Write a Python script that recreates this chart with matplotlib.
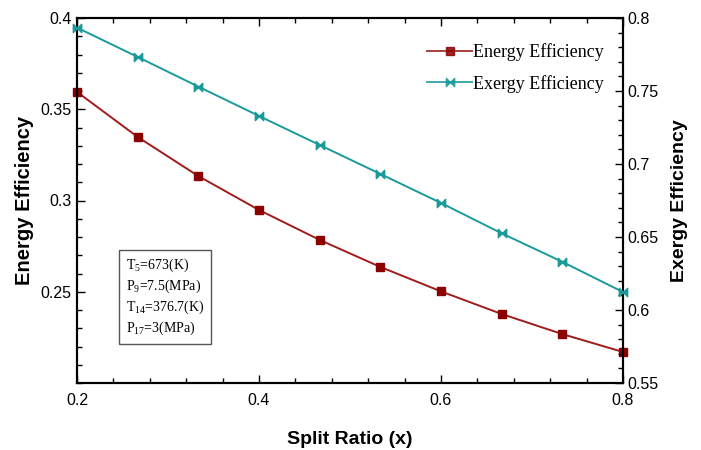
import numpy as np
import matplotlib
matplotlib.use("Agg")
import matplotlib.pyplot as plt
from matplotlib.path import Path
from matplotlib.ticker import MultipleLocator

# Split ratio values
split_ratio = [0.2, 0.2667, 0.3333, 0.4, 0.4667, 0.5333, 0.6, 0.6667, 0.7333, 0.8]

# Efficiencies
energy_eff = [0.3595, 0.3348, 0.3134, 0.2948, 0.2784, 0.2636, 0.2502, 0.2378, 0.2268, 0.2170]
exergy_eff = [0.7934, 0.7733, 0.7530, 0.7329, 0.7130, 0.6932, 0.6733, 0.6525, 0.6330, 0.6123]

# Conditions shown in the box
conditions = [r"T$_5$=673(K)", r"P$_9$=7.5(MPa)", r"T$_{14}$=376.7(K)", r"P$_{17}$=3(MPa)"]

plt.rcParams["font.family"] = "Liberation Sans"
plt.rcParams["mathtext.fontset"] = "custom"
plt.rcParams["mathtext.rm"] = "Liberation Serif"

red = "#8b0000"
teal = "#1a9a9a"

bowtie = Path([(-1, -1), (1, 1), (1, -1), (-1, 1), (-1, -1)],
              [Path.MOVETO, Path.LINETO, Path.LINETO, Path.LINETO, Path.CLOSEPOLY])

fig = plt.figure(figsize=(7.01, 4.5), dpi=100)
ax = fig.add_axes([77 / 701, 1 - 383 / 450, (623 - 77) / 701, (383 - 18) / 450])
ax2 = ax.twinx()

l1, = ax.plot(split_ratio, energy_eff, color="#a01c1c", lw=1.4, marker="s", ms=6,
              mfc=red, mec=red, label="Energy Efficiency", clip_on=False, zorder=3)
l2, = ax2.plot(split_ratio, exergy_eff, color=teal, lw=1.4, marker=bowtie, ms=6,
               mfc=teal, mec=teal, label="Exergy Efficiency", clip_on=False, zorder=3)

ax.set_xlim(0.2, 0.8)
ax.set_ylim(0.2, 0.4)
ax2.set_ylim(0.55, 0.8)

ax.xaxis.set_minor_locator(MultipleLocator(0.04))
ax.yaxis.set_minor_locator(MultipleLocator(0.01))
ax2.yaxis.set_minor_locator(MultipleLocator(0.01))

ax.set_xticks([0.2, 0.4, 0.6, 0.8])
ax.set_xticklabels(["0.2", "0.4", "0.6", "0.8"])
ax.set_yticks([0.25, 0.3, 0.35, 0.4])
ax.set_yticklabels(["0.25", "0.3", "0.35", "0.4"])
ax2.set_yticks([0.55, 0.6, 0.65, 0.7, 0.75, 0.8])
ax2.set_yticklabels(["0.55", "0.6", "0.65", "0.7", "0.75", "0.8"])

ax.tick_params(which="both", direction="in", top=True, right=False, labelsize=11.5)
ax.tick_params(axis="y", pad=4)
ax.tick_params(axis="x", pad=7)
ax.tick_params(which="major", length=6, width=1)
ax.tick_params(which="minor", length=3.5, width=1)
ax2.tick_params(which="both", direction="in", labelsize=11.5, pad=3)
ax2.tick_params(which="major", length=6, width=1)
ax2.tick_params(which="minor", length=3.5, width=1)
for a in (ax, ax2):
    for s in a.spines.values():
        s.set_linewidth(1.5)

ax.set_xlabel("Split Ratio (x)", fontsize=14, fontweight="bold", labelpad=17)
ax.set_ylabel("Energy Efficiency", fontsize=14.5, fontweight="bold", labelpad=4.5)
ax2.set_ylabel("Exergy Efficiency", fontsize=14, fontweight="bold", labelpad=9)

leg = ax2.legend(handles=[l1, l2], loc="upper right", frameon=False,
                 prop={"family": "Liberation Serif", "size": 13},
                 handlelength=2.5, handletextpad=0.05, labelspacing=0.75,
                 bbox_to_anchor=(0.995, 0.975))
for h in leg.legend_handles:
    h.set_alpha(0.85)

ax.text(0.09, 0.345, "\n".join(conditions), transform=ax.transAxes,
        family="Liberation Serif", fontsize=10, linespacing=1.3, va="top", ha="left",
        bbox=dict(boxstyle="square,pad=0.5", fc="white", ec="#555555", lw=1))

fig.savefig("out.png", dpi=100)
